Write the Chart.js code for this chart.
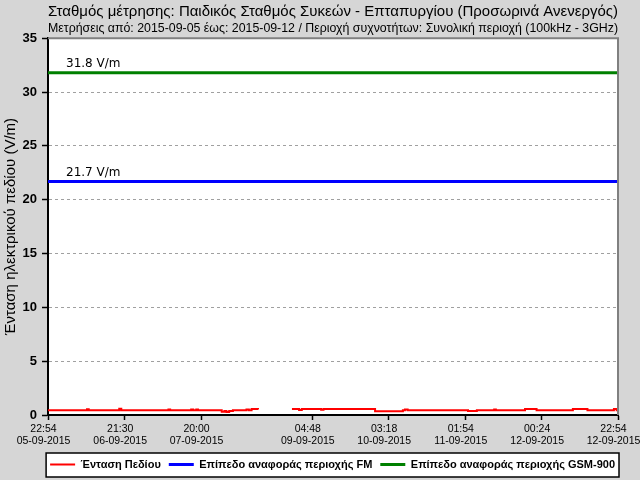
<!DOCTYPE html>
<html>
<head>
<meta charset="utf-8">
<script src="https://cdn.jsdelivr.net/npm/chart.js@4/dist/chart.umd.min.js"></script>
<style>
html,body{margin:0;padding:0;background:#d6d6d6;}
canvas{display:block;}
</style>
</head>
<body>
<canvas id="c" width="640" height="480"></canvas>
<script>
// ---- data ----
const titleText = 'Σταθμός μέτρησης: Παιδικός Σταθμός Συκεών - Επταπυργίου (Προσωρινά Ανενεργός)';
const subtitleText = 'Μετρήσεις από: 2015-09-05 έως: 2015-09-12 / Περιοχή συχνοτήτων: Συνολική περιοχή (100kHz - 3GHz)';
const yAxisTitle = 'Ένταση ηλεκτρικού πεδίου (V/m)';
const seriesNames = ['Ένταση Πεδίου', 'Επίπεδο αναφοράς περιοχής FM', 'Επίπεδο αναφοράς περιοχής GSM-900'];

// hours since 05-09-2015 22:54
const tickHours = [0, 22.6, 45.1, 77.9, 100.4, 123.0, 145.5, 168];
const tickTimes = ['22:54', '21:30', '20:00', '04:48', '03:18', '01:54', '00:24', '22:54'];
const tickDates = ['05-09-2015', '06-09-2015', '07-09-2015', '09-09-2015', '10-09-2015', '11-09-2015', '12-09-2015', '12-09-2015'];

const fieldHours = [0, 11.5, 12, 21, 21.6, 35.5, 36, 42.2, 42.8, 43.7, 44.2, 51.2, 52, 52.6, 53.4, 54.5, 58.5, 59.2, 60, 61.9,
  62, 71.9, 74, 74.8, 80.5, 81.2, 96.4, 104.6, 105.2, 106, 123.8, 126.4, 131.5, 132, 140.6, 144, 154.7, 159, 166.8, 167.6, 168];
const fieldValues = [0.45, 0.53, 0.45, 0.58, 0.45, 0.52, 0.45, 0.52, 0.45, 0.52, 0.45, 0.30, 0.38, 0.27, 0.37, 0.43, 0.52, 0.45, 0.55, 0.50,
  null, 0.55, 0.47, 0.55, 0.48, 0.55, 0.35, 0.45, 0.50, 0.45, 0.36, 0.45, 0.52, 0.45, 0.55, 0.45, 0.56, 0.45, 0.55, 0.45, 0.45];

const fmLevel = 21.7;
const gsmLevel = 31.8;
const yTicks = [0, 5, 10, 15, 20, 25, 30, 35];

// ---- chart ----
const fieldData = fieldHours.map((h, i) => ({x: h, y: fieldValues[i]}));
const range = [tickHours[0], tickHours[tickHours.length - 1]];

const decorPlugin = {
  id: 'decor',
  beforeDraw(chart) {
    const ctx = chart.ctx, a = chart.chartArea;
    ctx.save();
    ctx.fillStyle = '#ffffff';
    ctx.fillRect(a.left, a.top, a.right - a.left, a.bottom - a.top);
    const lg = chart.legend;
    if (lg && lg.legendHitBoxes && lg.legendHitBoxes.length) {
      const hb = lg.legendHitBoxes;
      const x0 = Math.min(...hb.map(b => b.left)) - 4;
      const x1 = Math.max(...hb.map(b => b.left + b.width)) + 4;
      const y0 = Math.min(...hb.map(b => b.top)) - 6;
      const y1 = Math.max(...hb.map(b => b.top + b.height)) + 7;
      ctx.fillStyle = '#ffffff';
      ctx.fillRect(x0, y0, x1 - x0, y1 - y0);
      ctx.strokeStyle = '#000000';
      ctx.lineWidth = 1.5;
      ctx.strokeRect(x0, y0, x1 - x0, y1 - y0);
    }
    ctx.restore();
  },
  afterDatasetsDraw(chart) {
    const ctx = chart.ctx, a = chart.chartArea, y = chart.scales.y;
    ctx.save();
    ctx.strokeStyle = '#808080';
    ctx.lineWidth = 2;
    ctx.beginPath();
    ctx.moveTo(a.left, a.top);
    ctx.lineTo(a.right, a.top);
    ctx.lineTo(a.right, a.bottom);
    ctx.stroke();
    ctx.fillStyle = '#000000';
    ctx.font = '12px "DejaVu Sans"';
    ctx.textAlign = 'left';
    ctx.textBaseline = 'bottom';
    ctx.fillText(gsmLevel.toFixed(1) + ' V/m', a.left + 18, y.getPixelForValue(gsmLevel) - 3);
    ctx.fillText(fmLevel.toFixed(1) + ' V/m', a.left + 18, y.getPixelForValue(fmLevel) - 3);
    ctx.restore();
  }
};

new Chart(document.getElementById('c'), {
  type: 'line',
  data: {
    datasets: [
      {label: seriesNames[0], data: fieldData, borderColor: '#ff0000', backgroundColor: '#ff0000', borderWidth: 2, pointRadius: 0, stepped: 'before', spanGaps: false},
      {label: seriesNames[1], data: range.map(h => ({x: h, y: fmLevel})), borderColor: '#0000ff', backgroundColor: '#0000ff', borderWidth: 3, pointRadius: 0},
      {label: seriesNames[2], data: range.map(h => ({x: h, y: gsmLevel})), borderColor: '#008000', backgroundColor: '#008000', borderWidth: 3, pointRadius: 0}
    ]
  },
  options: {
    responsive: false,
    animation: false,
    layout: {padding: {left: 0, right: 17, top: 0, bottom: 0}},
    plugins: {
      title: {display: true, text: titleText, fullSize: false, color: '#000', font: {family: '"Liberation Sans"', size: 15.2, weight: 'normal', lineHeight: 1.2}, padding: {top: 3, bottom: 0}},
      subtitle: {display: true, text: subtitleText, fullSize: false, color: '#000', font: {family: '"Liberation Sans"', size: 12.4, weight: 'normal', lineHeight: 1.2}, padding: {top: 0, bottom: 2.1}},
      legend: {
        position: 'bottom',
        align: 'end',
        labels: {usePointStyle: true, pointStyle: 'line', pointStyleWidth: 25, color: '#000', padding: 8,
          font: {family: '"Liberation Sans"', size: 11, weight: 'bold'}}
      },
      tooltip: {enabled: false}
    },
    scales: {
      x: {
        type: 'linear', min: range[0], max: range[1],
        afterBuildTicks: (s) => { s.ticks = tickHours.map(v => ({value: v})); },
        afterFit: (s) => { s.height = 36; s.paddingLeft = 0; s.paddingRight = 22; },
        ticks: {autoSkip: false, maxRotation: 0, minRotation: 0, padding: 3, labelOffset: -4.5, color: '#000',
          font: {family: '"Liberation Sans"', size: 10.5, lineHeight: 1.15},
          callback: (v, i) => [tickTimes[i], tickDates[i]]},
        grid: {drawOnChartArea: false, drawTicks: true, tickLength: 5, tickColor: '#000', tickWidth: 1.5},
        border: {display: true, color: '#000', width: 2}
      },
      y: {
        min: 0, max: 35,
        afterBuildTicks: (s) => { s.ticks = yTicks.map(v => ({value: v})); },
        afterFit: (s) => { s.width = 48; s.paddingTop = 0; s.paddingBottom = 0; },
        ticks: {padding: 5, color: '#000', font: {family: '"Liberation Sans"', size: 13, weight: 'bold'}},
        grid: {color: (c) => (c.tick && (c.tick.value === 0 || c.tick.value === 35)) ? 'rgba(0,0,0,0)' : '#a0a0a0',
          lineWidth: 1, drawTicks: true, tickLength: 6, tickColor: '#000', tickWidth: 1.5, tickBorderDash: []},
        border: {display: true, color: '#000', width: 2, dash: [3, 3]},
        title: {display: true, text: yAxisTitle, color: '#000', font: {family: '"Liberation Sans"', size: 15}, padding: {top: 2, bottom: 0}}
      }
    }
  },
  plugins: [decorPlugin]
});
</script>
</body>
</html>
